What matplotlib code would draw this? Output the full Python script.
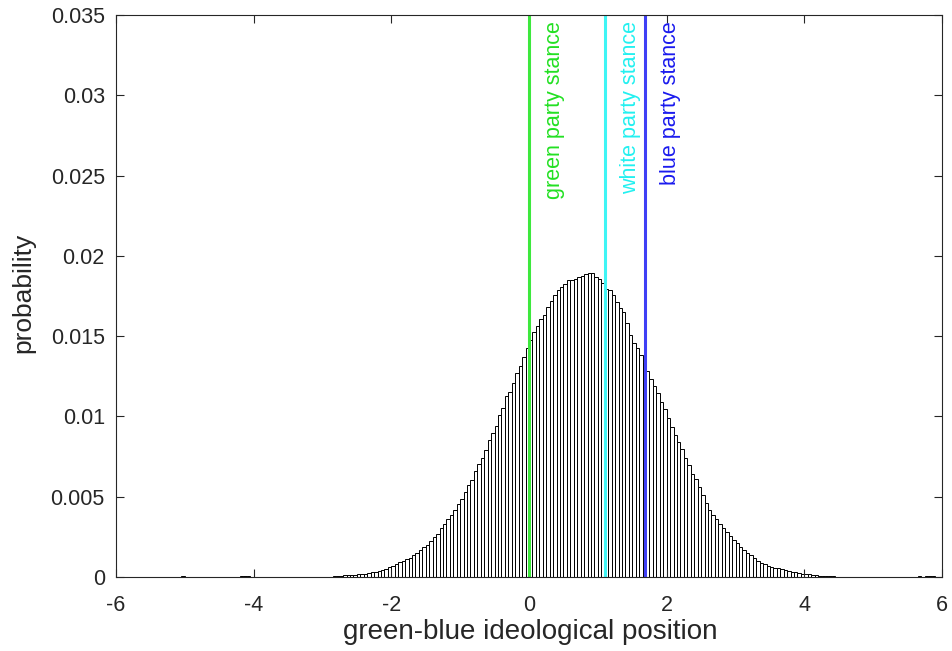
import numpy as np
import matplotlib
matplotlib.use("Agg")
import matplotlib.pyplot as plt

plt.rcParams['font.family'] = ['Liberation Sans', 'DejaVu Sans']

BIN_WIDTH = 0.05
FIRST_EDGE = -5.05

# bin probabilities (x 1e-4), one per 0.05 bin starting at FIRST_EDGE
left_tail = [0.4] + [0.0] * 16 + [0.4, 0.4, 0.4] + [0.2] * 24
body = [
    0.6, 0.7, 0.8, 1.0, 1.0, 1.3, 1.4, 1.6, 1.9, 2.1, 2.3, 2.8, 3.3, 3.6, 4.4, 5.0, 6.2,
    6.8, 7.9, 9.2, 10.2, 11.0, 12.0, 13.6, 15.2, 16.6, 18.6, 20.2, 22.4, 24.6, 27.0, 30.5, 33.2, 35.8, 38.5, 41.6, 45.6,
    48.3, 52.8, 57.1, 60.6, 65.8, 70.6, 74.0, 79.0, 85.2, 89.4, 94.0, 100.6, 105.0, 112.5, 115.4, 120.5, 127.0, 131.2, 137.0, 142.3,
    147.6, 152.5, 156.5, 160.8, 163.0, 168.0, 171.6, 175.8, 178.6, 180.8, 182.2, 185.0, 184.8, 185.6, 187.0, 187.4, 188.4, 189.0, 189.6, 187.0,
    185.5, 182.8, 179.6, 178.6, 175.8, 171.2, 167.6, 165.2, 158.0, 151.0, 146.0, 142.6, 138.5, 134.0, 128.5, 123.0, 119.0, 114.4, 109.2, 104.6,
    98.8, 93.5, 88.4, 84.0, 80.0, 74.3, 69.6, 64.0, 60.8, 56.0, 51.0, 45.8, 41.5, 38.6, 36.0, 33.0, 30.5, 28.0, 25.5, 23.2,
    21.0, 18.8, 16.8, 15.0, 13.5, 11.8, 10.0, 8.8, 7.8, 6.9, 6.4, 5.9, 5.7, 5.0, 4.3, 3.6, 3.3, 2.8, 2.2, 2.1,
    2.1, 1.9, 1.5, 1.4, 0.9, 0.9, 0.8, 0.4, 0.3,
]
right_tail = [0.2] * 23 + [0.0, 0.4, 0.0, 0.4, 0.4, 0.4]

probs = np.array(left_tail + body + right_tail) * 1e-4

stances = [0.0, 1.1, 1.68]
stance_labels = ['green party stance', 'white party stance', 'blue party stance']
line_colors = ['#3de83d', '#3ff5f5', '#3f3ff5']
text_colors = ['#22e022', '#22f0f0', '#1a1aee']

xticks = [-6, -4, -2, 0, 2, 4, 6]
yticks = [0, 0.005, 0.01, 0.015, 0.02, 0.025, 0.03, 0.035]
ytick_labels = ['0', '0.005', '0.01', '0.015', '0.02', '0.025', '0.03', '0.035']

edges = FIRST_EDGE + BIN_WIDTH * np.arange(len(probs) + 1)
centers = (edges[:-1] + edges[1:]) / 2

fig = plt.figure(figsize=(9.53, 6.51), dpi=100)
ax = fig.add_axes([0.1217, 0.1137, 0.8668, 0.8633])

ax.hist(centers, bins=edges, weights=probs, facecolor='white',
        edgecolor='black', linewidth=0.7)

for x, lab, lc, tc in zip(stances, stance_labels, line_colors, text_colors):
    ax.axvline(x, color=lc, linewidth=2.2)
    ax.text(x + 0.37, 0.0346, lab, rotation=90, color=tc, fontsize=15.5,
            ha='center', va='top')

ax.set_xlim(-6, 6)
ax.set_ylim(0, 0.035)
ax.set_xticks(xticks)
ax.set_xticklabels([str(t) for t in xticks])
ax.set_yticks(yticks)
ax.set_yticklabels(ytick_labels)
ax.tick_params(direction='in', top=True, right=True, labelsize=15.5,
               length=6, width=0.8, color='#262626', labelcolor='#262626')
ax.tick_params(axis='x', pad=13)
ax.tick_params(axis='y', pad=8)
for s in ax.spines.values():
    s.set_color('#262626')
    s.set_linewidth(0.8)

ax.set_xlabel('green-blue ideological position', fontsize=20, color='#262626')
ax.set_ylabel('probability', fontsize=19, color='#262626')
ax.xaxis.set_label_coords(0.501, -0.074)
ax.yaxis.set_label_coords(-0.098, 0.505)

fig.savefig('out.png', dpi=100)
